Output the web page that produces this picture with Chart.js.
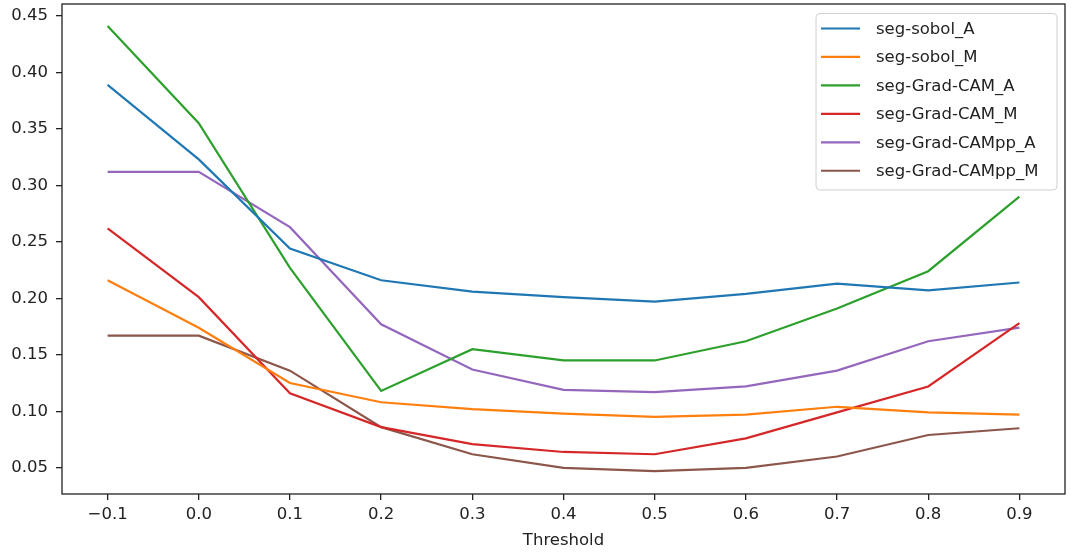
<!DOCTYPE html>
<html>
<head>
<meta charset="utf-8">
<script src="https://cdn.jsdelivr.net/npm/chart.js@4.4.1/dist/chart.umd.min.js"></script>
<style>
  html, body { margin: 0; padding: 0; background: #fff; }
  canvas { display: block; }
</style>
</head>
<body>
<canvas id="chart" width="1071" height="553"></canvas>
<script>
// x values (threshold)
const thresholds = [-0.1, 0.0, 0.1, 0.2, 0.3, 0.4, 0.5, 0.6, 0.7, 0.8, 0.9];
const yTicks = [0.05, 0.10, 0.15, 0.20, 0.25, 0.30, 0.35, 0.40, 0.45];

const seriesNames = ['seg-sobol_A', 'seg-sobol_M', 'seg-Grad-CAM_A', 'seg-Grad-CAM_M', 'seg-Grad-CAMpp_A', 'seg-Grad-CAMpp_M'];
const sobolA      = [0.389, 0.323, 0.244, 0.216, 0.206, 0.201, 0.197, 0.204, 0.213, 0.207, 0.214];
const sobolM      = [0.216, 0.174, 0.125, 0.108, 0.102, 0.098, 0.095, 0.097, 0.104, 0.099, 0.097];
const gradcamA    = [0.441, 0.355, 0.227, 0.118, 0.155, 0.145, 0.145, 0.162, 0.191, 0.224, 0.290];
const gradcamM    = [0.262, 0.201, 0.116, 0.086, 0.071, 0.064, 0.062, 0.076, 0.099, 0.122, 0.178];
const gradcamppA  = [0.312, 0.312, 0.263, 0.177, 0.137, 0.119, 0.117, 0.122, 0.136, 0.162, 0.174];
const gradcamppM  = [0.167, 0.167, 0.136, 0.086, 0.062, 0.050, 0.047, 0.050, 0.060, 0.079, 0.085];

const colors = ['#1f77b4', '#ff7f0e', '#2ca02c', '#d62728', '#9467bd', '#8c564b'];
const allSeries = [sobolA, sobolM, gradcamA, gradcamM, gradcamppA, gradcamppM];

const FONT = '"DejaVu Sans", sans-serif';

// Frame around the plot area, like matplotlib spines
const framePlugin = {
    id: 'frame',
    afterDraw(chart) {
        const a = chart.chartArea;
        const ctx = chart.ctx;
        ctx.save();
        ctx.strokeStyle = '#222';
        ctx.lineWidth = 1.3;
        ctx.strokeRect(a.left, a.top, a.right - a.left, a.bottom - a.top);
        ctx.restore();
    }
};

// Legend box drawn inside the plot, upper right
const insideLegend = {
    id: 'insideLegend',
    afterDraw(chart) {
        const ctx = chart.ctx;
        const sets = chart.data.datasets;
        const boxX = 816, boxY = 13.5, boxW = 241, boxH = 176.5;
        ctx.save();
        ctx.beginPath();
        ctx.roundRect(boxX, boxY, boxW, boxH, 4);
        ctx.fillStyle = 'rgba(255,255,255,0.8)';
        ctx.fill();
        ctx.strokeStyle = '#d0d0d0';
        ctx.lineWidth = 1;
        ctx.stroke();
        ctx.font = '16.5px ' + FONT;
        ctx.textBaseline = 'middle';
        sets.forEach(function (ds, i) {
            const cy = 28.5 + i * 28.45;
            ctx.strokeStyle = ds.borderColor;
            ctx.lineWidth = 2.2;
            ctx.beginPath();
            ctx.moveTo(821, cy);
            ctx.lineTo(860, cy);
            ctx.stroke();
            ctx.fillStyle = '#222';
            ctx.fillText(ds.label, 876, cy + 1);
        });
        ctx.restore();
    }
};

const ctx = document.getElementById('chart').getContext('2d');
new Chart(ctx, {
    type: 'line',
    data: {
        datasets: allSeries.map(function (vals, i) {
            return {
                label: seriesNames[i],
                data: vals.map(function (v, j) { return { x: thresholds[j], y: v }; }),
                borderColor: colors[i],
                backgroundColor: colors[i],
                borderWidth: 2.2,
                pointRadius: 0,
                tension: 0,
                fill: false
            };
        })
    },
    options: {
        responsive: false,
        animation: false,
        devicePixelRatio: 1,
        layout: { padding: { top: 4, right: 6, left: 0, bottom: 0 } },
        plugins: {
            legend: { display: false },
            tooltip: { enabled: false }
        },
        scales: {
            x: {
                type: 'linear',
                min: -0.15,
                max: 0.95,
                afterBuildTicks: function (scale) {
                    scale.ticks = thresholds.map(function (v) { return { value: v }; });
                },
                afterFit: function (scale) {
                    scale.height = 59;
                    scale.paddingLeft = 0;
                    scale.paddingRight = 0;
                },
                grid: { drawOnChartArea: false, drawTicks: true, tickLength: 6, color: '#222', lineWidth: 1.3 },
                border: { display: false },
                ticks: {
                    font: { family: FONT, size: 16.5 },
                    color: '#222',
                    padding: 5,
                    maxRotation: 0,
                    autoSkip: false,
                    callback: function (v) { return (v < 0 ? '\u2212' : '') + Math.abs(v).toFixed(1); }
                },
                title: {
                    display: true,
                    text: 'Threshold',
                    font: { family: FONT, size: 16.5 },
                    color: '#222',
                    padding: { top: 0, bottom: 2 }
                }
            },
            y: {
                type: 'linear',
                min: 0.0268,
                max: 0.4605,
                afterBuildTicks: function (scale) {
                    scale.ticks = yTicks.map(function (v) { return { value: v }; });
                },
                afterFit: function (scale) {
                    scale.width = 62;
                    scale.paddingTop = 0;
                    scale.paddingBottom = 0;
                },
                grid: { drawOnChartArea: false, drawTicks: true, tickLength: 6, color: '#222', lineWidth: 1.3 },
                border: { display: false },
                ticks: {
                    font: { family: FONT, size: 16.5 },
                    color: '#222',
                    padding: 8,
                    callback: function (v) { return v.toFixed(2); }
                }
            }
        }
    },
    plugins: [framePlugin, insideLegend]
});
</script>
</body>
</html>
